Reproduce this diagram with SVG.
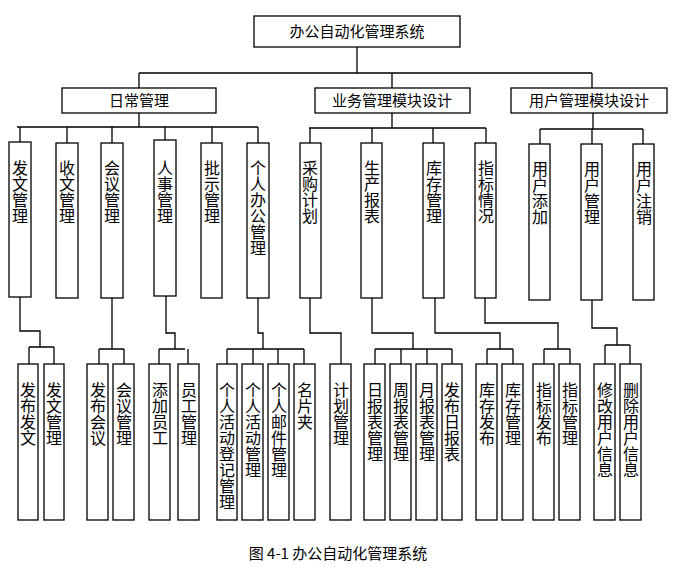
<svg xmlns="http://www.w3.org/2000/svg" width="694" height="577" viewBox="0 0 694 577">
<style>
rect{fill:#fff;stroke:#000;stroke-width:1.3}
text{font-family:"Noto Sans CJK SC","Noto Sans CJK TC",sans-serif;fill:#000}
.h{font-size:15px;text-anchor:middle}
.v{font-size:16px;writing-mode:tb;glyph-orientation-vertical:0;letter-spacing:0}
#c path{fill:none;stroke:#000;stroke-width:1.3}
</style>
<rect width="694" height="577" style="fill:#fff;stroke:none"/>
<g id="c">
<path d="M357 47V73M139 73H592M139 73V88M392 73V88M592 73V88"/>
<path d="M139 113V127M17 127H258M20 127V142M67 127V143M112 127V143M165 127V140M212 127V143M258 127V143"/>
<path d="M392 113V128M309 128H486M310 128V143M372 128V143M433 128V143M486 128V143"/>
<path d="M593 113V129M540 129H643M540 129V144M592 129V144M643 129V144"/>
<path d="M20 297V331H40V347M29 347H54M29 347V364M54 347V364"/>
<path d="M112 298V349M99 349H124M99 349V364M124 349V364"/>
<path d="M166 296V333H175V349M159 349H185M159 349V364M188 349V364"/>
<path d="M258 298V333H263V349M227 349H304M227 349V364M253 349V364M278 349V364M304 349V364"/>
<path d="M310 298V333H341V364"/>
<path d="M372 298V333H413V349M375 349H452M375 349V364M401 349V364M427 349V364M452 349V364"/>
<path d="M435 298V333H500V349M487 349H513M487 349V364M513 349V364"/>
<path d="M485 298V323H558V349M544 349H570M544 349V364M570 349V364"/>
<path d="M592 300V328H617V345M605 345H630M605 345V364M630 345V364"/>
</g>
<g id="n0"><rect x="254" y="16" width="206" height="31"/><text class="h" x="357" y="37">办公自动化管理系统</text></g>
<g id="n1"><rect x="62" y="88" width="154" height="25"/><text class="h" x="139" y="106">日常管理</text></g>
<g id="n2"><rect x="315" y="88" width="155" height="25"/><text class="h" x="392" y="106">业务管理模块设计</text></g>
<g id="n3"><rect x="511" y="88" width="156" height="25"/><text class="h" x="589" y="106">用户管理模块设计</text></g>
<g id="a1"><rect x="9" y="142" width="22" height="155"/><text class="v" x="20" y="160">发文管理</text></g>
<g id="a2"><rect x="56" y="143" width="22" height="155"/><text class="v" x="67" y="160">收文管理</text></g>
<g id="a3"><rect x="101" y="143" width="22" height="155"/><text class="v" x="112" y="160">会议管理</text></g>
<g id="a4"><rect x="154" y="140" width="22" height="156"/><text class="v" x="165" y="160">人事管理</text></g>
<g id="a5"><rect x="201" y="143" width="21" height="155"/><text class="v" x="212" y="160">批示管理</text></g>
<g id="a6"><rect x="247" y="143" width="22" height="155"/><text class="v" x="258" y="160">个人办公管理</text></g>
<g id="b1"><rect x="300" y="143" width="21" height="155"/><text class="v" x="310" y="160">采购计划</text></g>
<g id="b2"><rect x="361" y="143" width="21" height="155"/><text class="v" x="372" y="160">生产报表</text></g>
<g id="b3"><rect x="423" y="143" width="21" height="155"/><text class="v" x="434" y="160">库存管理</text></g>
<g id="b4"><rect x="475" y="143" width="21" height="155"/><text class="v" x="486" y="160">指标情况</text></g>
<g id="u1"><rect x="529" y="144" width="21" height="156"/><text class="v" x="540" y="161">用户添加</text></g>
<g id="u2"><rect x="581" y="144" width="21" height="156"/><text class="v" x="592" y="161">用户管理</text></g>
<g id="u3"><rect x="633" y="144" width="21" height="156"/><text class="v" x="644" y="161">用户注销</text></g>
<g id="d1"><rect x="18" y="364" width="20" height="156"/><text class="v" x="28" y="382">发布发文</text></g>
<g id="d2"><rect x="44" y="364" width="20" height="156"/><text class="v" x="54" y="382">发文管理</text></g>
<g id="d3"><rect x="87" y="364" width="21" height="156"/><text class="v" x="98" y="382">发布会议</text></g>
<g id="d4"><rect x="113" y="364" width="21" height="156"/><text class="v" x="124" y="382">会议管理</text></g>
<g id="d5"><rect x="149" y="364" width="21" height="156"/><text class="v" x="160" y="382">添加员工</text></g>
<g id="d6"><rect x="178" y="364" width="21" height="156"/><text class="v" x="189" y="382">员工管理</text></g>
<g id="d7"><rect x="217" y="364" width="20" height="156"/><text class="v" x="227" y="382">个人活动登记管理</text></g>
<g id="d8"><rect x="242" y="364" width="21" height="156"/><text class="v" x="253" y="382">个人活动管理</text></g>
<g id="d9"><rect x="268" y="364" width="21" height="156"/><text class="v" x="279" y="382">个人邮件管理</text></g>
<g id="d10"><rect x="294" y="364" width="21" height="156"/><text class="v" x="305" y="382">名片夹</text></g>
<g id="d11"><rect x="330" y="364" width="21" height="156"/><text class="v" x="341" y="382">计划管理</text></g>
<g id="d12"><rect x="364" y="364" width="21" height="156"/><text class="v" x="375" y="382">日报表管理</text></g>
<g id="d13"><rect x="390" y="364" width="21" height="156"/><text class="v" x="401" y="382">周报表管理</text></g>
<g id="d14"><rect x="416" y="364" width="21" height="156"/><text class="v" x="427" y="382">月报表管理</text></g>
<g id="d15"><rect x="442" y="364" width="20" height="156"/><text class="v" x="452" y="382">发布日报表</text></g>
<g id="d16"><rect x="476" y="364" width="21" height="156"/><text class="v" x="487" y="382">库存发布</text></g>
<g id="d17"><rect x="502" y="364" width="21" height="156"/><text class="v" x="513" y="382">库存管理</text></g>
<g id="d18"><rect x="533" y="364" width="21" height="156"/><text class="v" x="544" y="382">指标发布</text></g>
<g id="d19"><rect x="559" y="364" width="21" height="156"/><text class="v" x="570" y="382">指标管理</text></g>
<g id="d20"><rect x="594" y="364" width="21" height="156"/><text class="v" x="605" y="382">修改用户信息</text></g>
<g id="d21"><rect x="620" y="364" width="21" height="156"/><text class="v" x="631" y="382">删除用户信息</text></g>
<text x="338" y="559" style="font-size:15px;text-anchor:middle">图 4-1 办公自动化管理系统</text>
</svg>
